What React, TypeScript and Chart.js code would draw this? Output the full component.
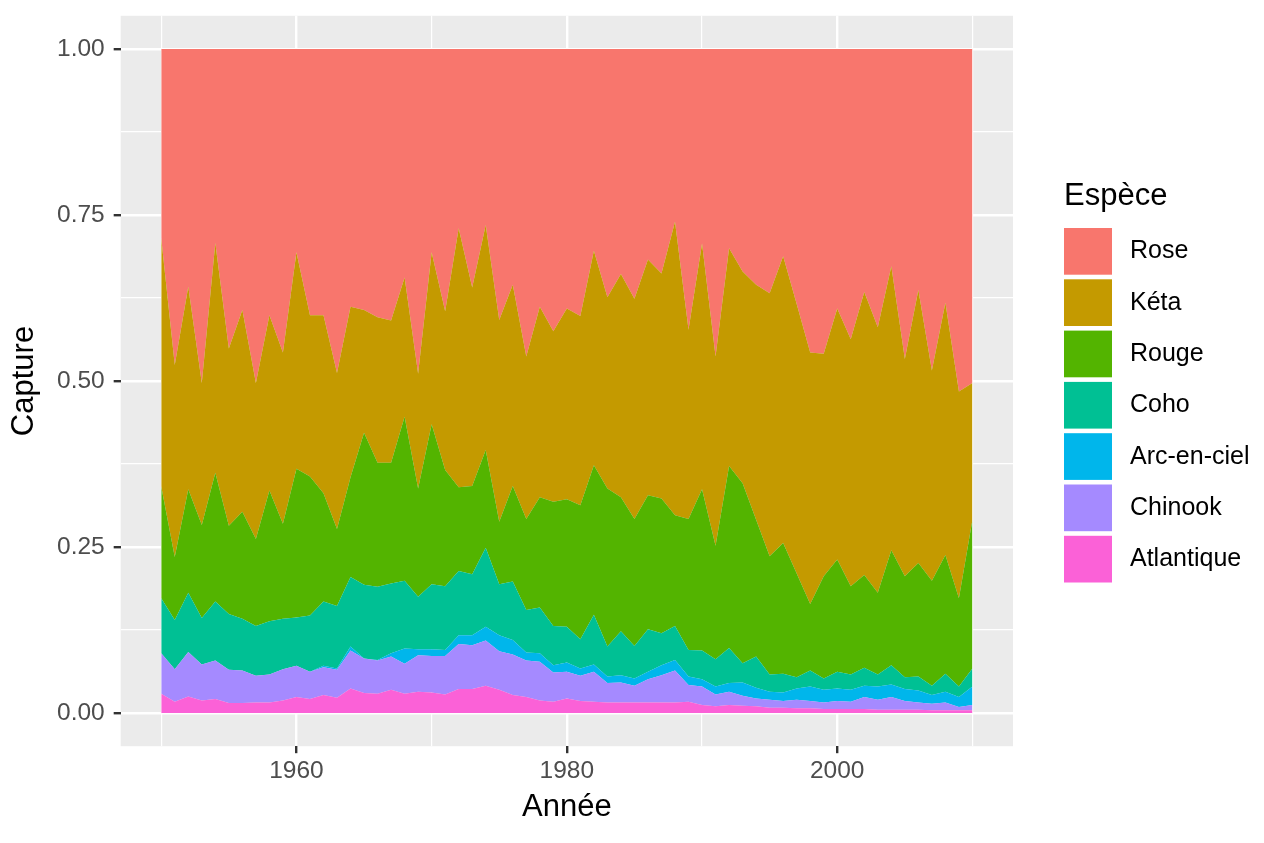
import React, { useEffect, useRef } from 'react';
import { Chart, registerables } from 'chart.js';

Chart.register(...registerables);

// Années
const annees = [
  1950, 1951, 1952, 1953, 1954, 1955, 1956, 1957, 1958, 1959,
  1960, 1961, 1962, 1963, 1964, 1965, 1966, 1967, 1968, 1969,
  1970, 1971, 1972, 1973, 1974, 1975, 1976, 1977, 1978, 1979,
  1980, 1981, 1982, 1983, 1984, 1985, 1986, 1987, 1988, 1989,
  1990, 1991, 1992, 1993, 1994, 1995, 1996, 1997, 1998, 1999,
  2000, 2001, 2002, 2003, 2004, 2005, 2006, 2007, 2008, 2009,
  2010,
];

// Part de la capture par espèce (pour mille)
const atlantique = [
  29, 17, 25, 19, 21, 15, 15, 16, 16, 19,
  24, 21, 27, 23, 37, 30, 29, 35, 29, 32,
  31, 28, 36, 36, 41, 35, 27, 24, 19, 17,
  22, 18, 17, 16, 16, 16, 16, 16, 16, 17,
  12, 10, 12, 11, 10, 8, 8, 7, 7, 6,
  6, 6, 6, 5, 5, 5, 5, 4, 4, 4,
  4,
];
const chinook = [
  61, 49, 67, 54, 58, 50, 49, 40, 42, 47,
  47, 41, 42, 42, 57, 52, 50, 50, 45, 55,
  55, 58, 68, 66, 68, 58, 61, 55, 58, 44,
  40, 38, 45, 29, 30, 25, 35, 41, 48, 25,
  28, 18, 20, 15, 12, 12, 10, 13, 11, 10,
  12, 11, 18, 15, 19, 13, 11, 10, 12, 5,
  8,
];
const arcEnCiel = [
  0, 0, 0, 0, 0, 0, 0, 0, 0, 0,
  0, 0, 2, 2, 6, 0, 1, 5, 23, 9,
  10, 9, 13, 15, 21, 24, 22, 12, 13, 11,
  14, 11, 11, 10, 11, 11, 11, 15, 16, 13,
  11, 12, 13, 20, 16, 12, 13, 17, 22, 19,
  19, 18, 17, 20, 19, 18, 18, 13, 16, 15,
  28,
];
const coho = [
  83, 74, 89, 70, 89, 84, 78, 75, 80, 76,
  73, 85, 97, 94, 105, 111, 110, 105, 102, 79,
  98, 96, 97, 92, 119, 77, 88, 64, 69, 59,
  54, 44, 75, 45, 66, 49, 64, 48, 51, 40,
  43, 41, 53, 29, 47, 26, 28, 17, 24, 17,
  25, 23, 27, 18, 29, 18, 21, 14, 27, 16,
  27,
];
const rouge = [
  168, 95, 156, 140, 194, 133, 161, 131, 197, 143,
  224, 209, 163, 116, 150, 229, 187, 182, 247, 163,
  241, 175, 126, 133, 147, 94, 144, 137, 166, 187,
  192, 202, 225, 238, 202, 191, 202, 203, 167, 197,
  243, 171, 274, 271, 206, 178, 197, 156, 100, 154,
  169, 133, 140, 123, 173, 152, 171, 158, 179, 133,
  224,
];
const keta = [
  374, 289, 305, 214, 346, 267, 304, 235, 264, 258,
  326, 243, 268, 235, 257, 185, 219, 214, 210, 173,
  259, 239, 390, 299, 339, 304, 303, 245, 287, 257,
  287, 285, 323, 288, 336, 332, 355, 339, 442, 285,
  370, 285, 328, 319, 354, 396, 432, 406, 379, 335,
  378, 372, 426, 400, 428, 327, 411, 317, 380, 311,
  206,
];
const rose = [
  285, 476, 358, 503, 292, 451, 393, 503, 401, 457,
  306, 401, 401, 488, 388, 393, 404, 409, 344, 489,
  306, 395, 270, 359, 265, 408, 355, 463, 388, 425,
  391, 402, 304, 374, 339, 376, 317, 338, 260, 423,
  293, 463, 300, 335, 355, 368, 312, 384, 457, 459,
  391, 437, 366, 419, 327, 467, 363, 484, 382, 516,
  503,
];

// Empilement du bas vers le haut
const especes = ['Atlantique', 'Chinook', 'Arc-en-ciel', 'Coho', 'Rouge', 'Kéta', 'Rose'];
const series = [atlantique, chinook, arcEnCiel, coho, rouge, keta, rose];
const couleurs = ['#FB61D7', '#A58AFF', '#00B6EB', '#00C094', '#53B400', '#C49A00', '#F8766D'];

// Graduations (les grandes portent une étiquette)
const xTicks = [1950, 1960, 1970, 1980, 1990, 2000, 2010];
const xLabels = [1960, 1980, 2000];
const yTicks = [0, 0.125, 0.25, 0.375, 0.5, 0.625, 0.75, 0.875, 1];
const yLabels = [0, 0.25, 0.5, 0.75, 1];

const FONT = '"Liberation Sans", Arial, Helvetica, sans-serif';

const isMajorX = (v: number) => xLabels.includes(v);
const isMajorY = (v: number) => yLabels.some((l) => Math.abs(l - v) < 1e-9);

// fond gris du panneau (theme_gray)
const panelBackground = {
  id: 'panelBackground',
  beforeDraw(chart: Chart) {
    const { ctx, chartArea } = chart;
    ctx.save();
    ctx.fillStyle = '#EBEBEB';
    ctx.fillRect(chartArea.left, chartArea.top, chartArea.right - chartArea.left, chartArea.bottom - chartArea.top);
    ctx.restore();
  },
};

// légende façon ggplot, à droite du panneau
const ggLegend = {
  id: 'ggLegend',
  afterDraw(chart: Chart) {
    const { ctx, chartArea } = chart;
    const midY = (chartArea.top + chartArea.bottom) / 2;
    const x = chartArea.right + 51;
    ctx.save();
    ctx.fillStyle = '#000000';
    ctx.textAlign = 'left';
    ctx.textBaseline = 'alphabetic';
    ctx.font = `31px ${FONT}`;
    ctx.fillText('Espèce', x, midY - 176);

    const items = chart.data.datasets.map((d, i) => ({ label: d.label as string, color: couleurs[i] })).reverse();
    ctx.font = `25px ${FONT}`;
    ctx.textBaseline = 'middle';
    items.forEach((item, i) => {
      const top = midY - 153 + i * 51.3;
      ctx.fillStyle = item.color;
      ctx.fillRect(x, top, 48, 46.7);
      ctx.fillStyle = '#000000';
      ctx.fillText(item.label, x + 66, top + 23.5);
    });
    ctx.restore();
  },
};

const CaptureSaumons: React.FC = () => {
  const chartRef = useRef<HTMLCanvasElement>(null);
  const chartInstance = useRef<Chart | null>(null);

  useEffect(() => {
    if (!chartRef.current) return;
    if (chartInstance.current) {
      chartInstance.current.destroy();
    }
    const ctx = chartRef.current.getContext('2d');
    if (!ctx) return;

    // position = "fill" : chaque année ramenée à 1
    const totals = annees.map((_, i) => series.reduce((s, arr) => s + arr[i], 0));

    chartInstance.current = new Chart(ctx, {
      type: 'line',
      data: {
        datasets: series.map((arr, k) => ({
          label: especes[k],
          data: arr.map((v, i) => ({ x: annees[i], y: v / totals[i] })),
          backgroundColor: couleurs[k],
          borderColor: 'rgba(0,0,0,0)',
          borderWidth: 1,
          pointRadius: 0,
          tension: 0,
          fill: k === 0 ? 'origin' : '-1',
        })),
      },
      options: {
        responsive: false,
        animation: false,
        layout: { padding: { top: 15.8, right: 251, bottom: 17.2, left: 0 } },
        plugins: {
          legend: { display: false },
          tooltip: { enabled: false },
        },
        scales: {
          x: {
            type: 'linear',
            min: 1947,
            max: 2013,
            afterBuildTicks: (scale) => {
              scale.ticks = xTicks.map((v) => ({ value: v }));
            },
            ticks: {
              autoSkip: false,
              maxRotation: 0,
              padding: 3,
              color: '#4D4D4D',
              font: { family: FONT, size: 24.5 },
              callback: (v) => (isMajorX(Number(v)) ? String(v) : ''),
            },
            grid: {
              color: '#FFFFFF',
              lineWidth: (c) => (c.tick && isMajorX(c.tick.value) ? 2.4 : 1.2),
              tickColor: (c) => (c.tick && isMajorX(c.tick.value) ? '#333333' : 'rgba(0,0,0,0)'),
              tickWidth: 2.4,
              tickLength: 7,
            },
            border: { display: false },
            title: {
              display: true,
              text: 'Année',
              color: '#000000',
              font: { family: FONT, size: 31 },
              padding: { top: 0, bottom: 0 },
            },
          },
          y: {
            type: 'linear',
            stacked: true,
            min: -0.05,
            max: 1.05,
            afterBuildTicks: (scale) => {
              scale.ticks = yTicks.map((v) => ({ value: v }));
            },
            ticks: {
              autoSkip: false,
              padding: 9,
              color: '#4D4D4D',
              font: { family: FONT, size: 24.5, lineHeight: 0.5 },
              callback: (v) => (isMajorY(Number(v)) ? Number(v).toFixed(2) : ''),
            },
            grid: {
              color: '#FFFFFF',
              lineWidth: (c) => (c.tick && isMajorY(c.tick.value) ? 2.4 : 1.2),
              tickColor: (c) => (c.tick && isMajorY(c.tick.value) ? '#333333' : 'rgba(0,0,0,0)'),
              tickWidth: 2.4,
              tickLength: 7,
            },
            border: { display: false },
            title: {
              display: true,
              text: 'Capture',
              color: '#000000',
              font: { family: FONT, size: 31 },
              padding: { top: 5.4, bottom: 5.4 },
            },
          },
        },
      },
      plugins: [panelBackground, ggLegend],
    });

    return () => {
      if (chartInstance.current) {
        chartInstance.current.destroy();
        chartInstance.current = null;
      }
    };
  }, []);

  return (
    <div style={{ position: 'absolute', left: 0, top: 0, width: 1264, height: 843, background: '#FFFFFF' }}>
      <canvas ref={chartRef} width={1264} height={843} style={{ width: 1264, height: 843 }} />
    </div>
  );
};

export default function App() {
  return <CaptureSaumons />;
}
